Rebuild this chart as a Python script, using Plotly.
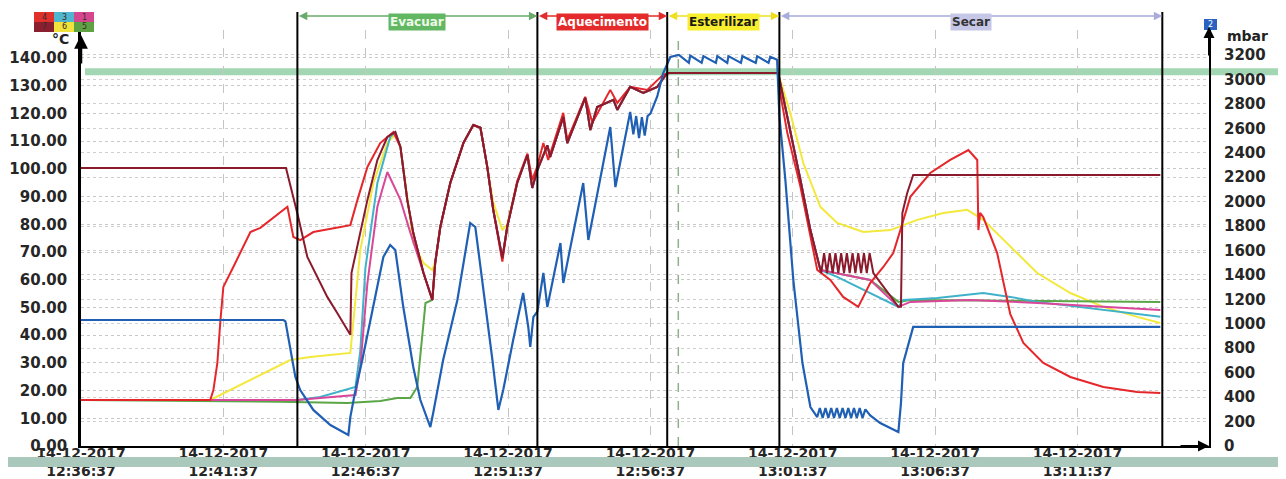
import pandas as pd
import plotly.graph_objects as go

START = pd.Timestamp("2017-12-14 12:36:37")

# ---------------- axis / tick data ----------------
tick_date = "14-12-2017"
tick_times = ["12:36:37", "12:41:37", "12:46:37", "12:51:37",
              "12:56:37", "13:01:37", "13:06:37", "13:11:37"]
tick_minutes = [0, 5, 10, 15, 20, 25, 30, 35]
temp_ticks = [0, 10, 20, 30, 40, 50, 60, 70, 80, 90, 100, 110, 120, 130, 140]
pres_ticks = [0, 200, 400, 600, 800, 1000, 1200, 1400, 1600, 1800,
              2000, 2200, 2400, 2600, 2800, 3000, 3200]

# ---------------- phases ----------------
phase_names = ["Evacuar", "Aquecimento", "Esterilizar", "Secar"]
phase_edges = [7.60, 16.03, 20.59, 24.53, 37.98]          # minutes after 12:36:37
phase_bg = ["#62b862", "#e42a2a", "#f7ee2e", "#c6c7e6"]
phase_fg = ["#eef9e8", "#ffffff", "#1a1a1a", "#333333"]
phase_arrow = ["#6aaa6a", "#e42a2a", "#eee020", "#a9abdc"]
setpoint_temp = 135.0
marker_minute = 20.98

# ---------------- channel legend ----------------
legend_ids = ["4", "3", "1", "7", "6", "5"]
legend_cols = ["#e0302c", "#4fb6cf", "#d4478f", "#8a1f30", "#f1e23c", "#5fa244"]

# ---------------- series (minutes, value) ----------------
# channel 4 (red), degC
t4 = [0, 4.54, 4.65, 4.79, 4.89, 5.00, 5.35, 5.70, 5.95, 6.30,
      7.25, 7.46, 7.70, 8.16, 9.46, 9.71, 10.06, 10.51, 10.97, 11.22,
      11.46, 11.67, 12.03, 12.34, 12.44, 12.62, 12.97, 13.43, 13.78, 14.03,
      14.27, 14.48, 14.80, 14.97, 15.32, 15.68, 15.85, 16.03, 16.24, 16.41,
      16.94, 17.08, 17.71, 17.96, 18.59, 18.84, 19.29, 19.89, 20.45, 20.70,
      24.49, 24.52, 24.81, 25.27, 25.86, 26.32, 26.77, 27.30, 27.72, 28.18,
      28.53, 28.78, 29.13, 29.83, 30.53, 31.17, 31.48, 31.52, 31.58, 31.69,
      32.18, 32.64, 33.10, 33.80, 34.75, 35.91, 37.10, 37.91]
v4 = [16.6, 16.6, 20.2, 30.0, 44.4, 57.4, 64.6, 71.8, 77.2, 78.7,
      86.3, 75.4, 74.3, 77.2, 79.7, 88.8, 100.7, 109.3, 113.3, 107.9,
      88.8, 76.9, 62.4, 52.7, 66.0, 79.0, 94.9, 109.3, 115.8, 114.8,
      100.7, 85.2, 66.5, 79.0, 95.5, 105.5, 96.0, 101.0, 109.3, 103.2,
      120.2, 110.4, 126.0, 116.6, 128.5, 123.8, 129.6, 128.5, 134.0, 134.6,
      134.6, 129.6, 112.9, 93.5, 63.5, 59.9, 53.8, 50.2, 58.8, 64.6,
      69.6, 77.9, 89.9, 98.5, 103.2, 106.8, 103.2, 77.9, 84.1, 82.6,
      69.6, 47.6, 37.2, 30.0, 24.9, 21.3, 19.5, 19.1]

# channel 7 (maroon), degC
t7 = [0, 7.20, 7.42, 7.63, 7.95, 8.30, 8.65, 9.00, 9.46, 9.50,
      9.74, 10.06, 10.41, 10.76, 11.04, 11.22, 11.46, 11.67, 12.03, 12.34,
      12.44, 12.62, 12.97, 13.43, 13.78, 14.03, 14.27, 14.48, 14.80, 14.97,
      15.32, 15.68, 15.85, 16.03, 16.38, 16.48, 16.94, 17.08, 17.71, 17.89,
      18.13, 18.70, 18.84, 19.29, 19.75, 20.24, 20.59, 24.49, 24.56, 24.91,
      25.27, 25.62, 25.90, 26.00, 26.10, 26.20, 26.30, 26.40, 26.50, 26.60,
      26.70, 26.80, 26.90, 27.00, 27.10, 27.20, 27.30, 27.40, 27.50, 27.60,
      27.70, 27.83, 28.71, 28.80, 28.85, 29.02, 29.23, 37.91]
v7 = [100.3, 100.3, 91.3, 82.6, 68.2, 61.0, 53.8, 48.0, 40.1, 62.4,
      73.3, 88.8, 103.2, 111.5, 113.3, 107.9, 88.8, 76.9, 62.4, 52.7,
      66.0, 79.0, 94.9, 109.3, 115.8, 114.8, 100.7, 85.2, 67.8, 79.0,
      94.9, 105.0, 93.1, 99.6, 108.5, 104.3, 118.7, 109.3, 125.6, 114.0,
      122.3, 124.9, 121.3, 129.6, 127.4, 129.6, 134.6, 134.6, 131.0, 114.0,
      96.0, 77.9, 67.1, 62.4, 69.6, 62.4, 69.6, 62.4, 69.6, 62.4,
      69.6, 62.4, 69.6, 62.4, 69.6, 62.4, 69.6, 62.4, 69.6, 62.4,
      69.6, 62.4, 50.2, 50.2, 84.1, 91.3, 97.8, 97.8]

# channel 6 (yellow), degC
t6 = [0, 4.54, 7.35, 8.05, 9.46, 9.64, 9.81, 10.27, 10.76, 11.04,
      11.22, 11.46, 11.67, 12.03, 12.34, 12.44, 12.62, 12.97, 13.43, 13.78,
      14.03, 14.27, 14.48, 14.80, 14.97, 15.32, 15.68, 15.85, 16.03, 16.38,
      16.48, 16.94, 17.08, 17.71, 17.89, 18.13, 18.70, 18.84, 19.29, 19.75,
      20.24, 20.59, 24.49, 24.56, 24.91, 25.37, 25.97, 26.56, 27.48, 28.43,
      29.37, 30.29, 31.13, 31.69, 32.40, 33.59, 34.75, 35.91, 37.10, 37.91]
v6 = [16.6, 16.6, 31.0, 32.1, 33.6, 52.7, 70.7, 94.9, 109.3, 112.5,
      107.9, 90.0, 73.3, 66.0, 63.5, 66.5, 79.0, 94.9, 109.3, 115.8,
      114.8, 100.7, 88.0, 77.9, 80.0, 95.0, 105.0, 95.0, 100.0, 108.5,
      104.3, 118.7, 109.3, 125.6, 114.0, 122.3, 124.9, 121.3, 129.6, 127.4,
      129.6, 134.6, 134.6, 132.1, 120.2, 102.1, 86.3, 80.5, 77.2, 77.9,
      81.6, 84.1, 85.2, 81.6, 74.3, 62.4, 55.2, 50.2, 46.6, 44.4]

# channel 3 (cyan), degC
t3 = [0, 7.60, 8.40, 9.64, 9.81, 9.99, 10.41, 10.86, 11.04, 11.22,
      11.46, 11.67, 12.03, 12.34, 12.44, 12.62, 12.97, 13.43, 13.78, 14.03,
      14.27, 14.48, 14.80, 14.97, 15.32, 15.68, 15.85, 16.03, 16.38, 16.48,
      16.94, 17.08, 17.71, 17.89, 18.13, 18.70, 18.84, 19.29, 19.75, 20.24,
      20.59, 24.49, 24.56, 24.91, 25.27, 25.62, 25.97, 26.56, 27.48, 28.18,
      28.71, 28.88, 30.08, 31.69, 32.64, 33.59, 35.91, 37.91]
v3 = [16.6, 16.6, 17.7, 21.3, 34.3, 64.3, 94.9, 111.5, 113.3, 107.9,
      88.8, 76.9, 62.4, 52.7, 66.0, 79.0, 94.9, 109.3, 115.8, 114.8,
      100.7, 85.2, 67.8, 79.0, 94.9, 105.0, 93.1, 99.6, 108.5, 104.3,
      118.7, 109.3, 125.6, 114.0, 122.3, 124.9, 121.3, 129.6, 127.4, 129.6,
      134.6, 134.6, 131.0, 114.0, 96.0, 77.9, 63.5, 61.0, 56.3, 52.7,
      50.2, 52.7, 53.4, 55.2, 53.8, 52.0, 49.1, 46.6]

# channel 1 (magenta), degC
t1 = [0, 7.60, 8.40, 9.64, 9.81, 10.06, 10.41, 10.76, 10.86, 11.22,
      11.57, 12.03, 12.34, 12.44, 12.62, 12.97, 13.43, 13.78, 14.03, 14.27,
      14.48, 14.80, 14.97, 15.32, 15.68, 15.85, 16.03, 16.38, 16.48, 16.94,
      17.08, 17.71, 17.89, 18.13, 18.70, 18.84, 19.29, 19.75, 20.24, 20.59,
      24.49, 24.56, 24.91, 25.27, 25.62, 25.97, 27.72, 28.71, 29.13, 31.24,
      33.59, 35.91, 37.91]
v1 = [16.6, 16.6, 17.3, 18.4, 28.5, 58.8, 86.3, 98.9, 96.7, 88.8,
      76.9, 62.4, 52.7, 66.0, 79.0, 94.9, 109.3, 115.8, 114.8, 100.7,
      85.2, 67.8, 79.0, 94.9, 105.0, 93.1, 99.6, 108.5, 104.3, 118.7,
      109.3, 125.6, 114.0, 122.3, 124.9, 121.3, 129.6, 127.4, 129.6, 134.6,
      134.6, 131.0, 114.0, 96.0, 77.9, 63.5, 59.9, 50.2, 52.0, 52.7,
      51.6, 50.2, 49.1]

# channel 5 (green), degC
t5 = [0, 7.00, 9.35, 10.51, 11.11, 11.57, 11.81, 11.99, 12.10, 12.34,
      12.44, 12.62, 12.97, 13.43, 13.78, 14.03, 14.27, 14.48, 14.80, 14.97,
      15.32, 15.68, 15.85, 16.03, 16.38, 16.48, 16.94, 17.08, 17.71, 17.89,
      18.13, 18.70, 18.84, 19.29, 19.75, 20.24, 20.59, 24.49, 24.56, 24.91,
      25.27, 25.62, 25.97, 27.72, 28.71, 29.13, 37.91]
v5 = [16.6, 16.0, 15.5, 16.2, 17.3, 17.3, 21.3, 40.8, 51.6, 52.7,
      66.0, 79.0, 94.9, 109.3, 115.8, 114.8, 100.7, 85.2, 67.8, 79.0,
      94.9, 105.0, 93.1, 99.6, 108.5, 104.3, 118.7, 109.3, 125.6, 114.0,
      122.3, 124.9, 121.3, 129.6, 127.4, 129.6, 134.6, 134.6, 131.0, 114.0,
      96.0, 77.9, 63.5, 59.9, 52.0, 52.7, 52.0]

# channel 2 (blue), mbar
t2 = [0, 7.11, 7.18, 7.35, 7.53, 7.70, 8.16, 8.76, 9.39, 9.46,
      9.64, 9.88, 10.27, 10.62, 10.86, 11.04, 11.32, 11.67, 11.92, 12.27,
      12.37, 12.72, 13.22, 13.67, 13.85, 14.13, 14.45, 14.66, 14.83, 15.18,
      15.53, 15.71, 15.78, 15.89, 16.03, 16.24, 16.38, 16.84, 16.94, 17.64,
      17.82, 18.59, 18.77, 19.29, 19.40, 19.50, 19.60, 19.70, 19.80, 19.90,
      20.00, 20.24, 20.45, 20.70, 21.00, 21.35, 21.40, 21.80, 21.86, 22.30,
      22.35, 22.70, 22.74, 23.18, 23.23, 23.70, 23.75, 24.15, 24.21, 24.45,
      24.53, 24.74, 25.02, 25.34, 25.62, 25.86, 25.95, 26.05, 26.15, 26.25,
      26.35, 26.45, 26.55, 26.65, 26.75, 26.85, 26.95, 27.05, 27.15, 27.25,
      27.35, 27.45, 27.55, 27.72, 28.07, 28.71, 28.80, 28.88, 29.23, 37.91]
v2 = [1031, 1031, 1020, 786, 565, 458, 295, 172, 90, 237,
      458, 704, 1137, 1547, 1645, 1604, 1137, 646, 376, 155,
      270, 704, 1195, 1825, 1792, 1301, 704, 295, 458, 867,
      1252, 974, 810, 1056, 1100, 1416, 1137, 1661, 1334, 2152,
      1686, 2610, 2119, 2733, 2550, 2700, 2520, 2690, 2540, 2700,
      2720, 2860, 3052, 3183, 3200, 3135, 3195, 3135, 3190, 3135,
      3190, 3135, 3190, 3135, 3190, 3135, 3190, 3135, 3185, 3160,
      2700, 2177, 1358, 679, 319, 237, 311, 229, 311, 229,
      311, 229, 311, 229, 311, 229, 311, 229, 311, 229,
      311, 229, 300, 250, 188, 115, 350, 679, 974, 974]

for a, b in [(t1, v1), (t2, v2), (t3, v3), (t4, v4), (t5, v5), (t6, v6), (t7, v7)]:
    assert len(a) == len(b), (len(a), len(b))


def ts(mins):
    return [START + pd.Timedelta(minutes=m) for m in mins]


def one(m):
    return START + pd.Timedelta(minutes=m)


# ---------------- page geometry ----------------
# reference-page pixel frame of the plot area; the page body adds an 8px margin
PAGE_W, PAGE_H, BODY = 1286, 479, 8
L, R, T, B = 81, 1209, 30, 446
W, H = PAGE_W - BODY, PAGE_H - BODY
X_END_MIN = 39.62
TEMP_TOP = 150.1
PRES_TOP = 3404


def px(x):
    return (x - L) / (R - L)


def py(y):
    return (B - y) / (B - T)


fig = go.Figure()

temp_series = [
    ("6", t6, v6, "#f3e93c"),
    ("5", t5, v5, "#5aa646"),
    ("3", t3, v3, "#3fb2c9"),
    ("1", t1, v1, "#d9479a"),
    ("4", t4, v4, "#e5262a"),
    ("7", t7, v7, "#8a1a2c"),
]
for name, tt, vv, col in temp_series:
    fig.add_trace(go.Scatter(x=ts(tt), y=vv, mode="lines", name=name,
                             line=dict(color=col, width=2), yaxis="y"))
fig.add_trace(go.Scatter(x=ts(t2), y=v2, mode="lines", name="2",
                         line=dict(color="#1f5fb4", width=2.2), yaxis="y2"))

tickfont = dict(family="DejaVu Sans", size=15, color="#262626", weight="bold")

fig.update_layout(
    width=W, height=H,
    margin=dict(l=L - BODY, r=PAGE_W - R, t=T - BODY, b=PAGE_H - B, autoexpand=False),
    paper_bgcolor="white", plot_bgcolor="white",
    showlegend=False,
    xaxis=dict(
        type="date", range=[one(0), one(X_END_MIN)], automargin=False,
        tickmode="array", tickvals=ts(tick_minutes),
        ticktext=[f"{tick_date}<br>{t}" for t in tick_times],
        tickfont=dict(family="DejaVu Sans", size=14, color="#262626", weight="bold"),
        showgrid=True, gridcolor="#c4c4c4", griddash="dash", gridwidth=1,
        showline=True, linecolor="black", linewidth=2, ticks="",
        zeroline=False, ticklabelstandoff=-7,
    ),
    yaxis=dict(
        range=[0, TEMP_TOP], automargin=False, tickmode="array", tickvals=temp_ticks,
        ticktext=[f"{v:.2f}" for v in temp_ticks], tickfont=tickfont,
        showgrid=True, gridcolor="#c8c8c8", griddash="dot", gridwidth=1,
        showline=True, linecolor="black", linewidth=2.5, ticks="",
        zeroline=False, ticklabelstandoff=8,
    ),
    yaxis2=dict(
        range=[0, PRES_TOP], automargin=False, overlaying="y", side="right",
        tickmode="array", tickvals=pres_ticks,
        ticktext=[str(v) for v in pres_ticks], tickfont=tickfont,
        showgrid=True, gridcolor="#d0d0d0", griddash="dot", gridwidth=1,
        showline=True, linecolor="black", linewidth=2, ticks="",
        zeroline=False, ticklabelstandoff=10,
    ),
)

shapes = []
# setpoint band
shapes.append(dict(type="line", xref="paper", yref="y", x0=px(85), x1=px(PAGE_W),
                   y0=setpoint_temp, y1=setpoint_temp, layer="below",
                   line=dict(color="rgba(140,205,160,0.8)", width=7)))
# green dashed marker line
shapes.append(dict(type="line", xref="x", yref="paper", x0=one(marker_minute), x1=one(marker_minute),
                   y0=0, y1=py(40), layer="below",
                   line=dict(color="#8fb08f", width=1.5, dash="dash")))
# phase boundaries
for e in phase_edges:
    shapes.append(dict(type="line", xref="x", yref="paper", x0=one(e), x1=one(e),
                       y0=0, y1=py(12), layer="above",
                       line=dict(color="black", width=2)))
# channel legend boxes
for i, (cid, col) in enumerate(zip(legend_ids, legend_cols)):
    r, c = divmod(i, 3)
    x0 = 34 + c * 20
    y0 = 12 + r * 10
    shapes.append(dict(type="rect", xref="paper", yref="paper",
                       x0=px(x0), x1=px(x0 + 20), y0=py(y0 + 10), y1=py(y0),
                       fillcolor=col, line=dict(width=0), layer="above"))
# blue channel box
shapes.append(dict(type="rect", xref="paper", yref="paper",
                   x0=px(1204), x1=px(1217), y0=py(30), y1=py(19),
                   fillcolor="#2a62c0", line=dict(width=0), layer="above"))
# scan band at bottom
shapes.append(dict(type="rect", xref="paper", yref="paper",
                   x0=px(0), x1=px(PAGE_W), y0=py(467), y1=py(457),
                   fillcolor="#aac8bc", line=dict(width=0), layer="above"))
fig.update_layout(shapes=shapes)

C = dict(xanchor="center", yanchor="middle")
ann = []
# axis arrowheads
ann.append(dict(xref="paper", yref="paper", x=0, y=py(35), ax=0, ay=30,
                showarrow=True, arrowhead=2, arrowsize=1.1, arrowwidth=2.5,
                arrowcolor="black", text=""))
ann.append(dict(xref="paper", yref="paper", x=1, y=py(27), ax=0, ay=30,
                showarrow=True, arrowhead=2, arrowsize=1.1, arrowwidth=2,
                arrowcolor="black", text=""))
ann.append(dict(xref="paper", yref="paper", x=1, y=0, ax=-30, ay=0,
                showarrow=True, arrowhead=2, arrowsize=1.1, arrowwidth=2,
                arrowcolor="black", text=""))
# unit labels
ann.append(dict(xref="paper", yref="paper", x=px(60), y=py(39), text="°C",
                showarrow=False, **C,
                font=dict(family="DejaVu Sans", size=14, color="#222", weight="bold")))
ann.append(dict(xref="paper", yref="paper", x=px(1247), y=py(36), text="mbar",
                showarrow=False, **C,
                font=dict(family="DejaVu Sans", size=14, color="#222", weight="bold")))
# legend digits
for i, cid in enumerate(legend_ids):
    r, c = divmod(i, 3)
    ann.append(dict(xref="paper", yref="paper", x=px(44 + c * 20), y=py(17 + r * 10),
                    text=cid, showarrow=False, **C,
                    font=dict(family="DejaVu Sans", size=8, color="#3a2a2a")))
ann.append(dict(xref="paper", yref="paper", x=px(1210.5), y=py(24.5), text="2",
                showarrow=False, **C,
                font=dict(family="DejaVu Sans", size=8, color="white")))
# phase arrows and labels
for i, name in enumerate(phase_names):
    a, b = phase_edges[i], phase_edges[i + 1]
    ann.append(dict(xref="x", yref="paper", x=one(b), y=py(16),
                    axref="x", ayref="pixel", ax=one(a), ay=0,
                    showarrow=True, arrowside="end+start", arrowhead=2,
                    arrowsize=1.3, arrowwidth=1.3, arrowcolor=phase_arrow[i], text=""))
    ann.append(dict(xref="x", yref="paper", x=one((a + b) / 2), y=py(22),
                    text=f"<b>{name}</b>", showarrow=False, bgcolor=phase_bg[i],
                    borderpad=1, **C,
                    font=dict(family="DejaVu Sans", size=12, color=phase_fg[i])))
fig.update_layout(annotations=ann)

fig.write_html("out.html")
